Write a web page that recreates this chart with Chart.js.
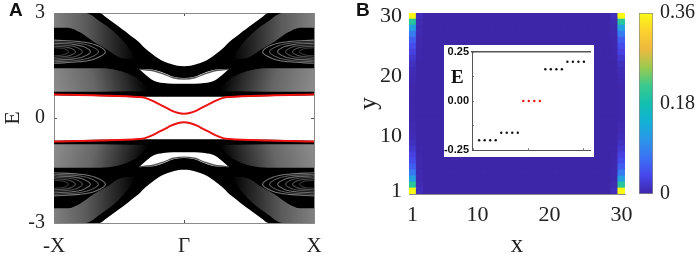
<!DOCTYPE html>
<html>
<head>
<meta charset="utf-8">
<script src="https://cdn.jsdelivr.net/npm/chart.js@4"></script>
<style>
  html, body { margin: 0; padding: 0; background: #fff; overflow: hidden; }
  canvas { position: absolute; }
  .tag { position: absolute; font: bold 19px "Liberation Sans"; color: #111; line-height: 19px; }
  #insetE { position: absolute; left: 451px; top: 66px; font: bold 19px "Liberation Serif"; color: #111; line-height: 22px; }
</style>
</head>
<body>
<canvas id="bands" width="330" height="256" style="left:0;top:0"></canvas>
<canvas id="heat" width="290" height="256" style="left:350px;top:0"></canvas>
<canvas id="cbar" width="69" height="256" style="left:630px;top:0"></canvas>
<canvas id="inset" width="150" height="112" style="left:444px;top:45px;background:#fff"></canvas>
<div class="tag" style="left:9px;top:0">A</div>
<div class="tag" style="left:356px;top:0">B</div>
<div id="insetE">E</div>
<script>
// panel A, left half of the spectrum (right half and E<0 are the mirror image)
const bandK = [-1, -.65, -.6, -.5, -.45, -.4, -.35, -.3, -.25, -.2, -.15, -.1, -.05, 0];
const outerEdge = [3, 3, 2.88, 2.61, 2.47, 2.32, 2.18, 1.99, 1.84, 1.71, 1.61, 1.54, 1.49, 1.48];
const floorK = [-1, -.4, 0];
const floorE = [.65, .61, .61];

const upperPatchK = [-1, -.758, -.643, -.513, -.413, -.367];
const upperPatchTop = [3, 3, 2.75, 2.38, 1.95, 1.67];
const arcK = [-1, -.896, -.797, -.697, -.589, -.49, -.367];
const arcTop = [2.58, 2.58, 2.44, 2.18, 1.95, 1.72, 1.67];

const lowerPatchK = [-1, -.643, -.513, -.413, -.336, -.29, -.251];
const lowerPatchTop = [1.42, 1.42, 1.366, 1.237, 1.066, .894, .766];
const lowerPatchFloorK = [-1, -.643, -.413, -.251];
const lowerPatchFloor = [.751, .751, .766, .766];

const lensK = [-.344, -.313, -.236, -.159, -.082, 0];
const lensTop = [1.40, 1.394, 1.38, 1.294, 1.18, 1.143];
const lensBottom = [1.40, 1.294, 1.074, 1.0, .98, .98];
const lensLine = [1.394, 1.38, 1.35, 1.26, 1.15, 1.115];

const edgeK = [-1, -.65, -.35, -.3, -.25, -.2, -.15, -.1, -.05, 0];
const edgeE = [.67, .645, .6, .575, .505, .41, .317, .22, .15, .123];

// swirl stripes around the band maximum at the zone edge
const ringK = [
  [-1, -.804, -.683, -.605, -.683, -.804, -1],
  [-1, -.827, -.726, -.658, -.726, -.827, -1],
  [-1, -.858, -.775, -.72, -.775, -.858, -1],
  [-1, -.889, -.824, -.781, -.824, -.889, -1],
  [-1, -.916, -.867, -.835, -.867, -.916, -1],
  [-1, -.942, -.91, -.888, -.91, -.942, -1]
];
const ringE = [
  [2.224, 2.181, 2.092, 1.894, 1.696, 1.607, 1.564],
  [2.18, 2.143, 2.066, 1.894, 1.722, 1.645, 1.608],
  [2.137, 2.105, 2.04, 1.894, 1.748, 1.683, 1.651],
  [2.094, 2.068, 2.014, 1.894, 1.774, 1.72, 1.694],
  [2.051, 2.031, 1.988, 1.894, 1.8, 1.757, 1.737],
  [2.008, 1.993, 1.962, 1.894, 1.826, 1.795, 1.78]
];
const ringGray = ['#777', '#5c5c5c', '#6c6c6c', '#4c4c4c', '#505050', '#383838'];

// panel B, probability density per site
const siteLabels = [];
for (let i = 1; i <= 30; i++) siteLabels.push(i);
const edgeColumn = [.36, .2, .12, .08, .055, .04, .03, .02, .012, .008, .005, .003, .002, .002, .002,
                    .002, .002, .002, .003, .005, .008, .012, .02, .03, .04, .055, .08, .12, .2, .36];
const nextColumn = [.01, .006, .004, .003, .002, .002, .001, .001, 0, 0, 0, 0, 0, 0, 0,
                    0, 0, 0, 0, 0, 0, 0, .001, .001, .002, .002, .003, .004, .006, .01];
const bulkColumn = [0, 0, 0, 0, 0, 0, 0, 0, 0, 0, 0, 0, 0, 0, 0,
                    0, 0, 0, 0, 0, 0, 0, 0, 0, 0, 0, 0, 0, 0, 0];
const siteTicks = [1, 10, 20, 30];
const colorTicks = [0, .18, .36];
const colorMax = [.36];

// inset, eigenvalues near E=0
const stateIndex = [1, 2, 3, 4, 5, 6, 7, 8, 9, 10, 11, 12, 13, 14, 15, 16, 17, 18, 19, 20];
const stateE = [-.2, -.2, -.2, -.2, -.162, -.162, -.162, -.162, 0, 0, 0, 0, .162, .162, .162, .162, .2, .2, .2, .2];
const stateColors = ['#111', '#111', '#111', '#111', '#111', '#111', '#111', '#111',
                     '#f01010', '#f01010', '#f01010', '#f01010', '#111', '#111', '#111', '#111', '#111', '#111', '#111', '#111'];

const parula = ['#3e26a8', '#4746eb', '#3b72f5', '#2b96e8', '#12b1d6', '#12bfb0', '#3cc98c', '#9bca4f', '#edb93f', '#fbd12e', '#f9fb15'];

const serif = 'Liberation Serif';
const axisGray = '#8a8a8a';

function hex(c) { return [1, 3, 5].map(i => parseInt(c.substr(i, 2), 16)); }
function heatColor(v) {
  const t = Math.min(v / colorMax[0], 1) * (parula.length - 1);
  const i = Math.min(Math.floor(t), parula.length - 2);
  const a = hex(parula[i]), b = hex(parula[i + 1]);
  const m = a.map((x, j) => Math.round(x + (b[j] - x) * (t - i)));
  return 'rgb(' + m.join(',') + ')';
}

// fixed axis box, and no extra room for labels that hang over the ends
function box(prop, size) {
  return s => {
    s[prop] = size;
    s.paddingLeft = s.paddingRight = s.paddingTop = s.paddingBottom = 0;
  };
}
function fixTicks(list) { return s => { s.ticks = list.map(v => ({ value: v })); }; }

// panel A ---------------------------------------------------------
const bandCtx = document.getElementById('bands').getContext('2d');

function grayFade(x0, y0, x1, y1, stops) {
  const g = bandCtx.createLinearGradient(x0, y0, x1, y1);
  stops.forEach(s => g.addColorStop(s[0], s[1]));
  return g;
}
const upperStops = [[0, '#808080'], [.4, '#5a5a5a'], [.75, '#262626'], [1, '#000']];
const lowerStops = [[0, '#8c8c8c'], [.45, '#666'], [.8, '#282828'], [1, '#000']];

function zip(k, e, sign) { return k.map((x, i) => ({ x: x, y: sign * e[i] })); }
function flipK(k) { return k.map(x => -x).reverse(); }
function flipE(e) { return e.slice().reverse(); }

const bandSets = [];
function curve(data, opts) {
  bandSets.push(Object.assign({
    data: data, pointRadius: 0, borderWidth: 0, fill: false, showLine: true,
    cubicInterpolationMode: 'monotone', borderColor: 'transparent'
  }, opts));
}
// colors: one for E>0, one for E<0
function region(upK, upE, loK, loE, colors, order) {
  [1, -1].forEach((sign, i) => {
    curve(zip(upK, upE, sign), { fill: '+1', backgroundColor: colors[i], order: order });
    curve(zip(loK, loE, sign), { order: order });
  });
}
function both(k, e) { return [k.concat(flipK(k).slice(1)), e.concat(flipE(e).slice(1))]; }

const [outerK, outerE] = both(bandK, outerEdge);
const [fK, fE] = both(floorK, floorE);
region(outerK, outerE, fK, fE, ['#000', '#000'], 100);

// grey moire patches, left then right
region(upperPatchK, upperPatchTop, arcK, arcTop,
  [grayFade(54, 0, 136, 0, upperStops), grayFade(54, 0, 136, 0, upperStops)], 90);
region(flipK(upperPatchK), flipE(upperPatchTop), flipK(arcK), flipE(arcTop),
  [grayFade(314, 0, 232, 0, upperStops), grayFade(314, 0, 232, 0, upperStops)], 90);
region(lowerPatchK, lowerPatchTop, lowerPatchFloorK, lowerPatchFloor,
  [grayFade(54, 92, 142, 68, lowerStops), grayFade(54, 145, 142, 169, lowerStops)], 90);
region(flipK(lowerPatchK), flipE(lowerPatchTop), flipK(lowerPatchFloorK), flipE(lowerPatchFloor),
  [grayFade(314, 92, 226, 68, lowerStops), grayFade(314, 145, 226, 169, lowerStops)], 90);

// swirl stripes
ringK.forEach((k, r) => {
  [1, -1].forEach(sign => {
    [1, -1].forEach(side => {
      curve(k.map((x, i) => ({ x: side * x, y: sign * ringE[r][i] })), {
        cubicInterpolationMode: 'default', tension: .35, borderWidth: 1.1,
        borderColor: ringGray[r], order: 80
      });
    });
  });
});

// white gap with its thin line
const [lensX, lensT] = both(lensK, lensTop);
const [, lensB] = both(lensK, lensBottom);
const [, lensL] = both(lensK, lensLine);
region(lensX, lensT, lensX, lensB, ['#fff', '#fff'], 70);
[1, -1].forEach(sign => curve(zip(lensX, lensL, sign), { borderWidth: 1.3, borderColor: '#555', order: 65 }));

// red edge states
const [redK, redE] = both(edgeK, edgeE);
[1, -1].forEach(sign => curve(zip(redK, redE, sign), { borderWidth: 2, borderColor: '#ee1111', order: 10 }));

const kTicks = [-1, 0, 1];
const kNames = ['-X', '\u0393', 'X'];
const eTicks = [-3, 0, 3];

new Chart(bandCtx, {
  type: 'scatter',
  data: { datasets: bandSets },
  options: {
    responsive: false,
    animation: false,
    events: [],
    plugins: { legend: { display: false }, tooltip: { enabled: false } },
    scales: {
      x: {
        type: 'linear', min: -1, max: 1,
        afterBuildTicks: fixTicks(kTicks),
        afterFit: box('height', 33),
        grid: { drawOnChartArea: false, tickLength: -3, color: '#555' },
        border: { color: axisGray },
        ticks: {
          autoSkip: false, maxRotation: 0, padding: 14, color: '#222',
          font: { family: serif, size: 21 },
          callback: v => kNames[kTicks.indexOf(v)]
        }
      },
      xTop: {
        type: 'linear', axis: 'x', position: 'top', min: -1, max: 1,
        afterBuildTicks: fixTicks([0]),
        afterFit: box('height', 13),
        grid: { drawOnChartArea: false, tickLength: -3, color: '#555' },
        border: { color: axisGray },
        ticks: { display: false }
      },
      y: {
        type: 'linear', min: -3, max: 3,
        afterBuildTicks: fixTicks(eTicks),
        afterFit: box('width', 54),
        grid: { drawOnChartArea: false, tickLength: -3, color: '#555' },
        border: { color: axisGray },
        title: { display: true, text: 'E', color: '#222', font: { family: serif, size: 22 }, padding: 0 },
        ticks: { autoSkip: false, padding: 12, color: '#222', font: { family: serif, size: 20 } }
      },
      yRight: {
        type: 'linear', axis: 'y', position: 'right', min: -3, max: 3,
        afterBuildTicks: fixTicks([0]),
        afterFit: box('width', 16),
        grid: { drawOnChartArea: false, tickLength: -3, color: '#555' },
        border: { color: axisGray },
        ticks: { display: false }
      }
    }
  }
});

// panel B heat map: one stacked bar per column, one dataset per row ---
const columns = siteLabels.map((s, i) =>
  (i === 0 || i === 29) ? edgeColumn : (i === 1 || i === 28) ? nextColumn : bulkColumn);

// zero colour behind the cells so the seams between bars do not show
const heatBack = {
  id: 'heatBack',
  beforeDatasetsDraw(chart) {
    const a = chart.chartArea;
    chart.ctx.fillStyle = heatColor(0);
    chart.ctx.fillRect(a.left, a.top, a.width, a.height);
  }
};

new Chart(document.getElementById('heat'), {
  type: 'bar',
  plugins: [heatBack],
  data: {
    labels: siteLabels,
    datasets: siteLabels.map((s, row) => ({
      data: siteLabels.map(() => 1),
      backgroundColor: columns.map(col => heatColor(col[row])),
      borderWidth: 0
    }))
  },
  options: {
    responsive: false,
    animation: false,
    events: [],
    layout: { padding: { top: 13, right: 15 } },
    datasets: { bar: { barPercentage: 1, categoryPercentage: 1 } },
    plugins: { legend: { display: false }, tooltip: { enabled: false } },
    scales: {
      x: {
        stacked: true,
        afterFit: box('height', 62),
        grid: { display: false, drawTicks: false },
        border: { color: axisGray },
        title: { display: true, text: 'x', color: '#222', font: { family: serif, size: 25 }, padding: { top: 0, bottom: -4 } },
        ticks: {
          autoSkip: false, maxRotation: 0, padding: 8, color: '#222',
          font: { family: serif, size: 22 },
          callback: (v, i) => siteTicks.includes(siteLabels[i]) ? siteLabels[i] : ''
        }
      },
      y: {
        stacked: true, min: 0, max: 30,
        afterBuildTicks: fixTicks(siteTicks.map(v => v - .5)),
        afterFit: box('width', 59),
        grid: { display: false, drawTicks: false },
        border: { color: axisGray },
        title: { display: true, text: 'y', color: '#222', font: { family: serif, size: 25 }, padding: { top: 4, bottom: 0 } },
        ticks: { autoSkip: false, padding: 7, color: '#222', font: { family: serif, size: 22 }, callback: v => v + .5 }
      }
    }
  }
});

// colour bar ------------------------------------------------------
const cbarCtx = document.getElementById('cbar').getContext('2d');
const cbarFill = cbarCtx.createLinearGradient(0, 194, 0, 13);
parula.forEach((c, i) => cbarFill.addColorStop(i / (parula.length - 1), c));

new Chart(cbarCtx, {
  type: 'bar',
  data: {
    labels: [''],
    datasets: [{
      data: colorMax, backgroundColor: cbarFill, borderColor: axisGray,
      borderWidth: 1, borderSkipped: false, barPercentage: 1, categoryPercentage: 1
    }]
  },
  options: {
    responsive: false,
    animation: false,
    events: [],
    layout: { padding: { left: 9, top: 13, bottom: 62 } },
    plugins: { legend: { display: false }, tooltip: { enabled: false } },
    scales: {
      x: { display: false },
      y: {
        position: 'right', min: 0, max: .36,
        afterBuildTicks: fixTicks(colorTicks),
        afterFit: box('width', 46),
        grid: { display: false, drawTicks: false },
        border: { display: false },
        ticks: { autoSkip: false, padding: 7, color: '#222', font: { family: serif, size: 20 }, callback: v => String(v) }
      }
    }
  }
});

// inset -----------------------------------------------------------
const insetLabel = { family: 'Liberation Sans', size: 11, weight: 'bold' };
new Chart(document.getElementById('inset'), {
  type: 'scatter',
  data: {
    datasets: [{
      data: stateIndex.map((n, i) => ({ x: n, y: stateE[i] })),
      backgroundColor: stateColors, pointRadius: 1.2, borderWidth: 0
    }]
  },
  options: {
    responsive: false,
    animation: false,
    events: [],
    layout: { padding: { bottom: 7 } },
    plugins: { legend: { display: false }, tooltip: { enabled: false } },
    scales: {
      x: {
        type: 'linear', min: -.3, max: 21.1,
        afterBuildTicks: fixTicks([0, 10, 20]),
        afterFit: box('height', 0),
        grid: { drawOnChartArea: false, tickLength: -2, color: '#888' },
        border: { color: '#555' },
        ticks: { display: false }
      },
      xTop: {
        type: 'linear', axis: 'x', position: 'top', min: -.3, max: 21.1,
        afterFit: box('height', 7),
        grid: { display: false, drawTicks: false },
        border: { color: '#555', width: 1.5 },
        ticks: { display: false }
      },
      y: {
        type: 'linear', min: -.25, max: .25,
        afterBuildTicks: fixTicks([-.25, -.125, 0, .125, .25]),
        afterFit: box('width', 28),
        grid: { drawOnChartArea: false, tickLength: -2, color: '#888' },
        border: { color: '#555' },
        ticks: {
          autoSkip: false, padding: 5, color: '#111', font: insetLabel,
          callback: v => Math.abs(v) === .125 ? '' : v.toFixed(2)
        }
      }
    }
  }
});
</script>
</body>
</html>
